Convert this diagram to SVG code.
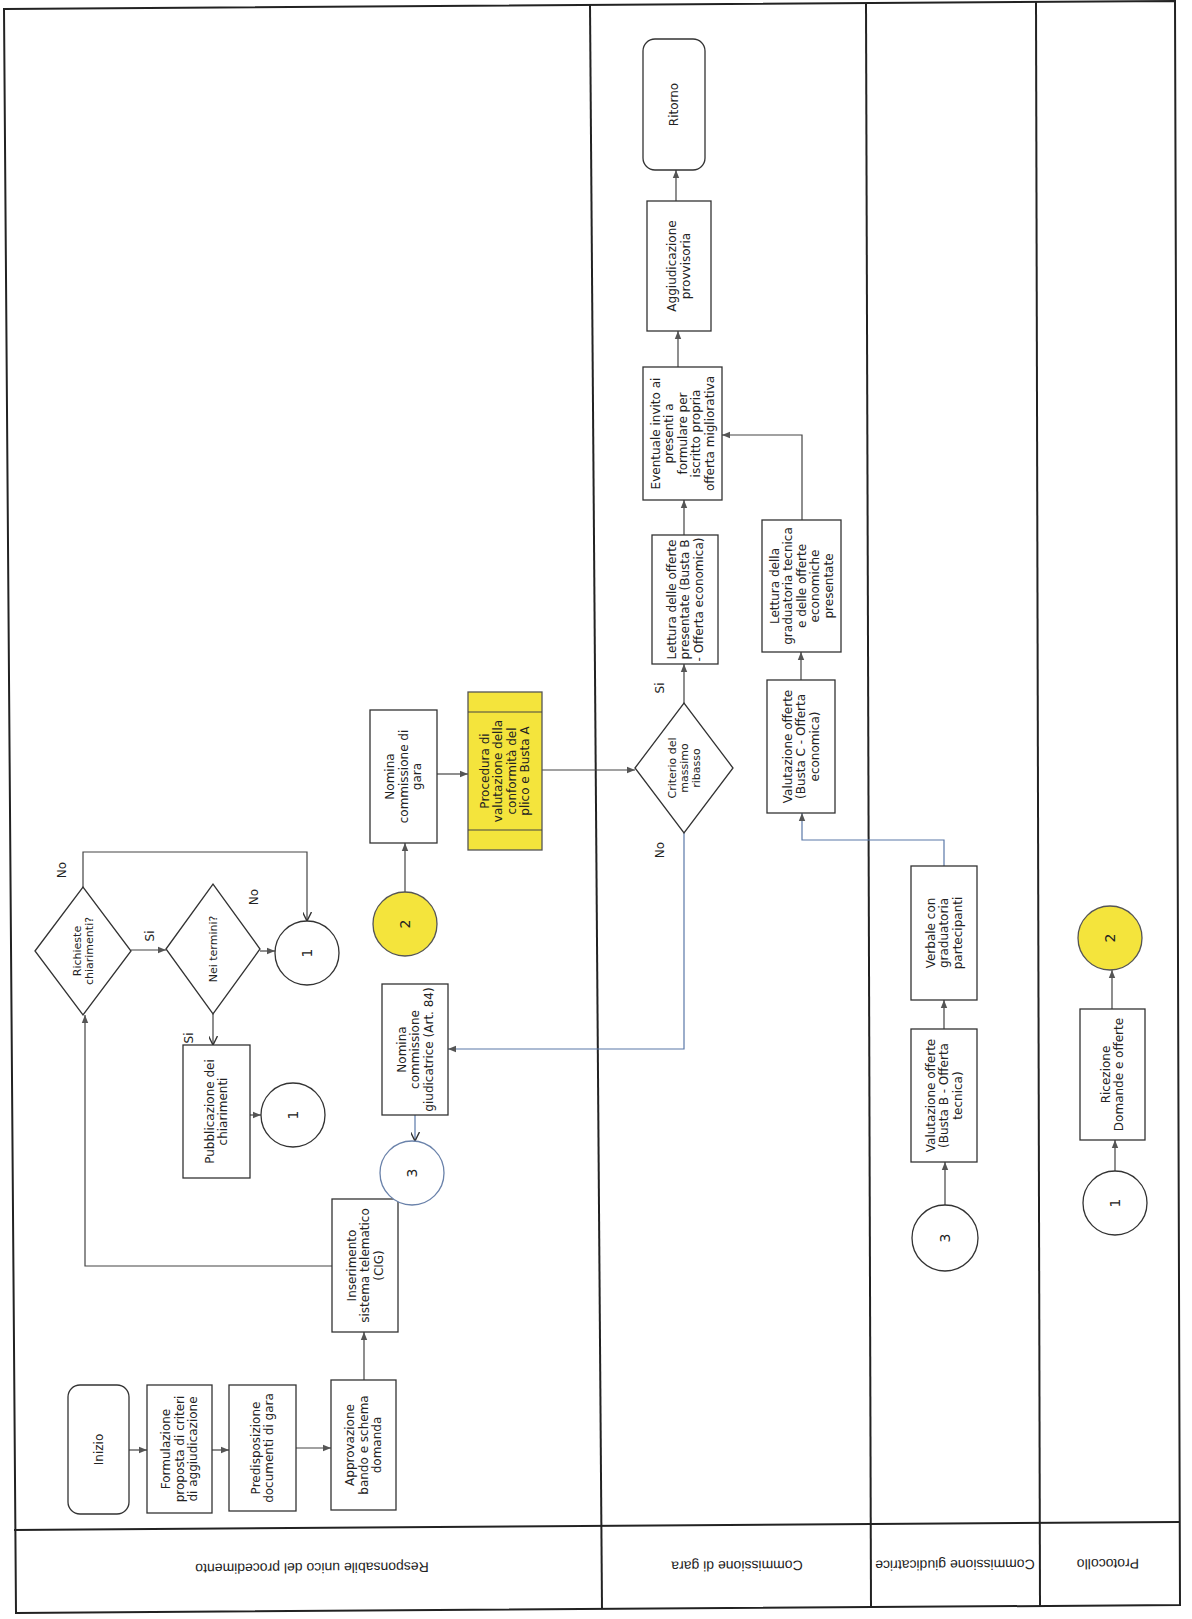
<svg xmlns="http://www.w3.org/2000/svg" width="1192" height="1619" viewBox="0 0 1192 1619">
<defs>
<style>
.bg{fill:#ffffff}
.frame{fill:none;stroke:#222;stroke-width:2}
.box{fill:#ffffff;stroke:#333;stroke-width:1.3}
.yel{fill:#f4e43c;stroke:#555;stroke-width:1.3}
.cb{fill:#ffffff;stroke:#333;stroke-width:1.3}
.cblue{fill:#ffffff;stroke:#6a82aa;stroke-width:1.3}
.t{font-family:"DejaVu Sans","Liberation Sans",sans-serif;font-size:12px;fill:#222;text-anchor:middle}
.ts{font-family:"DejaVu Sans","Liberation Sans",sans-serif;font-size:11px;fill:#222;text-anchor:middle}
.tn{font-family:"DejaVu Sans","Liberation Sans",sans-serif;font-size:14px;fill:#222;text-anchor:middle}
.tl{font-family:"DejaVu Sans","Liberation Sans",sans-serif;font-size:12px;fill:#222;text-anchor:middle}
.th{font-family:"Liberation Sans",Arial,sans-serif;font-size:14px;fill:#222;text-anchor:middle}
.c{fill:none;stroke:#444;stroke-width:1.2}
.cbl{fill:none;stroke:#5a78a8;stroke-width:1.2}
</style>
<marker id="arr" viewBox="0 0 10 10" refX="10" refY="5" markerWidth="8" markerHeight="8" orient="auto" markerUnits="userSpaceOnUse">
<path d="M0,1 L10,5 L0,9 z" fill="#555"/>
</marker>
<marker id="arrv" viewBox="0 0 10 10" refX="10" refY="5" markerWidth="9" markerHeight="9" orient="auto" markerUnits="userSpaceOnUse">
<path d="M0,0 L10,5 L0,10" fill="none" stroke="#333" stroke-width="1.6"/>
</marker>
</defs>
<rect class="bg" x="0" y="0" width="1192" height="1619"/>

<g id="lanes">
<path class="frame" d="M4,9 L1175,1 L1180,1605 L16,1613 Z"/>
<line class="frame" x1="590" y1="5" x2="602" y2="1609"/>
<line class="frame" x1="866" y1="3" x2="871" y2="1607"/>
<line class="frame" x1="1036" y1="2" x2="1040" y2="1606"/>
<line class="frame" x1="14" y1="1530" x2="1179" y2="1522"/>
<text class="th" transform="translate(312 1568) rotate(179.6)" y="5">Responsabile unico del procedimento</text>
<text class="th" transform="translate(737 1566) rotate(179.6)" y="5">Commissione di gara</text>
<text class="th" transform="translate(955 1565) rotate(179.6)" y="5">Commissione giudicatrice</text>
<text class="th" transform="translate(1108 1564) rotate(179.6)" y="5">Protocollo</text>
</g>

<g id="connectors">
<line class="c" x1="129" y1="1450" x2="147" y2="1450" marker-end="url(#arr)"/>
<line class="c" x1="212" y1="1450" x2="229" y2="1450" marker-end="url(#arr)"/>
<line class="c" x1="296" y1="1448" x2="331" y2="1448" marker-end="url(#arr)"/>
<line class="c" x1="364" y1="1380" x2="364" y2="1332" marker-end="url(#arr)"/>
<polyline class="c" points="332,1266 85,1266 85,1015" marker-end="url(#arr)"/>
<line class="c" x1="131" y1="950" x2="166" y2="950" marker-end="url(#arr)"/>
<polyline class="c" points="83,887 83,852 307,852 307,921" marker-end="url(#arrv)"/>
<line class="c" x1="260" y1="951" x2="275" y2="951" marker-end="url(#arr)"/>
<line class="c" x1="213" y1="1014" x2="213" y2="1045" marker-end="url(#arrv)"/>
<line class="c" x1="250" y1="1115" x2="261" y2="1115" marker-end="url(#arr)"/>
<line class="c" x1="405" y1="892" x2="405" y2="843" marker-end="url(#arr)"/>
<line class="c" x1="437" y1="774" x2="468" y2="774" marker-end="url(#arr)"/>
<line class="c" x1="542" y1="770" x2="635" y2="770" marker-end="url(#arr)"/>
<line class="c" x1="684" y1="703" x2="684" y2="664" marker-end="url(#arr)"/>
<polyline class="cbl" points="684,833 684,1049 448,1049" marker-end="url(#arr)"/>
<line class="cbl" x1="415" y1="1115" x2="415" y2="1141" marker-end="url(#arrv)"/>
<line class="c" x1="684" y1="535" x2="684" y2="500" marker-end="url(#arr)"/>
<line class="c" x1="678" y1="367" x2="678" y2="331" marker-end="url(#arr)"/>
<line class="c" x1="676" y1="201" x2="676" y2="170" marker-end="url(#arr)"/>
<line class="c" x1="801" y1="680" x2="801" y2="652" marker-end="url(#arr)"/>
<polyline class="c" points="802,520 802,435 722,435" marker-end="url(#arr)"/>
<polyline class="cbl" points="944,866 944,840 802,840 802,813" marker-end="url(#arr)"/>
<line class="c" x1="944" y1="1029" x2="944" y2="1000" marker-end="url(#arr)"/>
<line class="c" x1="945" y1="1205" x2="945" y2="1162" marker-end="url(#arr)"/>
<line class="c" x1="1115" y1="1171" x2="1115" y2="1140" marker-end="url(#arr)"/>
<line class="c" x1="1112" y1="1009" x2="1112" y2="970" marker-end="url(#arr)"/>
<text class="tl" transform="translate(62 870) rotate(-90)" y="4">No</text>
<text class="tl" transform="translate(150 936) rotate(-90)" y="4">Si</text>
<text class="tl" transform="translate(254 897) rotate(-90)" y="4">No</text>
<text class="tl" transform="translate(189 1038) rotate(-90)" y="4">Si</text>
<text class="tl" transform="translate(660 688) rotate(-90)" y="4">Si</text>
<text class="tl" transform="translate(660 850) rotate(-90)" y="4">No</text>
</g>

<g id="n-inizio">
<rect class="box" x="68" y="1385" width="61" height="129" rx="12"/>
<text class="t" transform="translate(98.5 1449.5) rotate(-90)"><tspan x="0" y="4.2">Inizio</tspan></text>
</g>
<g id="n-formulazione">
<rect class="box" x="147" y="1385" width="65" height="128"/>
<text class="t" transform="translate(179.5 1449) rotate(-90)"><tspan x="0" y="-9.3">Formulazione</tspan><tspan x="0" dy="13.5">proposta di criteri</tspan><tspan x="0" dy="13.5">di aggiudicazione</tspan></text>
</g>
<g id="n-predisposizione">
<rect class="box" x="229" y="1385" width="67" height="126"/>
<text class="t" transform="translate(262.5 1448) rotate(-90)"><tspan x="0" y="-2.55">Predisposizione</tspan><tspan x="0" dy="13.5">documenti di gara</tspan></text>
</g>
<g id="n-approvazione">
<rect class="box" x="331" y="1380" width="65" height="130"/>
<text class="t" transform="translate(363.5 1445) rotate(-90)"><tspan x="0" y="-9.3">Approvazione</tspan><tspan x="0" dy="13.5">bando e schema</tspan><tspan x="0" dy="13.5">domanda</tspan></text>
</g>
<g id="n-inserimento">
<rect class="box" x="332" y="1199" width="66" height="133"/>
<text class="t" transform="translate(365 1265.5) rotate(-90)"><tspan x="0" y="-9.3">Inserimento</tspan><tspan x="0" dy="13.5">sistema telematico</tspan><tspan x="0" dy="13.5">(CIG)</tspan></text>
</g>
<g id="n-richieste">
<polygon class="box" points="35,951 83,887 131,951 83,1015"/>
<text class="ts" transform="translate(83 951) rotate(-90)"><tspan x="0" y="-2.1">Richieste</tspan><tspan x="0" dy="12">chiarimenti?</tspan></text>
</g>
<g id="n-neitermini">
<polygon class="box" points="166,949 213,884 260,949 213,1014"/>
<text class="ts" transform="translate(213 949) rotate(-90)"><tspan x="0" y="3.9">Nei termini?</tspan></text>
</g>
<g id="n-conn1a">
<circle class="cb" cx="307" cy="953" r="32"/>
<text class="tn" transform="translate(307 953) rotate(-90)" y="5">1</text>
</g>
<g id="n-pubblicazione">
<rect class="box" x="183" y="1045" width="67" height="133"/>
<text class="t" transform="translate(216.5 1111.5) rotate(-90)"><tspan x="0" y="-2.55">Pubblicazione dei</tspan><tspan x="0" dy="13.5">chiarimenti</tspan></text>
</g>
<g id="n-conn1b">
<circle class="cb" cx="293" cy="1115" r="32"/>
<text class="tn" transform="translate(293 1115) rotate(-90)" y="5">1</text>
</g>
<g id="n-conn2a">
<circle class="yel" cx="405" cy="924" r="32"/>
<text class="tn" transform="translate(405 924) rotate(-90)" y="5">2</text>
</g>
<g id="n-nominagara">
<rect class="box" x="370" y="710" width="67" height="133"/>
<text class="t" transform="translate(403.5 776.5) rotate(-90)"><tspan x="0" y="-9.3">Nomina</tspan><tspan x="0" dy="13.5">commissione di</tspan><tspan x="0" dy="13.5">gara</tspan></text>
</g>
<g id="n-procedura">
<rect class="yel" x="468" y="692" width="74" height="158"/>
<line class="c" x1="468" y1="712" x2="542" y2="712"/>
<line class="c" x1="468" y1="830" x2="542" y2="830"/>
<text class="t" transform="translate(505 771) rotate(-90)"><tspan x="0" y="-16.05">Procedura di</tspan><tspan x="0" dy="13.5">valutazione della</tspan><tspan x="0" dy="13.5">conformità del</tspan><tspan x="0" dy="13.5">plico e Busta A</tspan></text>
</g>
<g id="n-nominagiud">
<rect class="box" x="382" y="984" width="66" height="131"/>
<text class="t" transform="translate(415 1049.5) rotate(-90)"><tspan x="0" y="-9.3">Nomina</tspan><tspan x="0" dy="13.5">commissione</tspan><tspan x="0" dy="13.5">giudicatrice (Art. 84)</tspan></text>
</g>
<g id="n-conn3a">
<circle class="cblue" cx="412" cy="1173" r="32"/>
<text class="tn" transform="translate(412 1173) rotate(-90)" y="5">3</text>
</g>

<g id="n-criterio">
<polygon class="box" points="635,768 684,703 733,768 684,833"/>
<text class="ts" transform="translate(684 768) rotate(-90)"><tspan x="0" y="-8.1">Criterio del</tspan><tspan x="0" dy="12">massimo</tspan><tspan x="0" dy="12">ribasso</tspan></text>
</g>
<g id="n-letturaofferte">
<rect class="box" x="652" y="535" width="66" height="129"/>
<text class="t" transform="translate(685 599.5) rotate(-90)"><tspan x="0" y="-9.3">Lettura delle offerte</tspan><tspan x="0" dy="13.5">presentate (Busta B</tspan><tspan x="0" dy="13.5">- Offerta economica)</tspan></text>
</g>
<g id="n-eventuale">
<rect class="box" x="643" y="367" width="79" height="133"/>
<text class="t" transform="translate(682.5 433.5) rotate(-90)"><tspan x="0" y="-22.8">Eventuale invito ai</tspan><tspan x="0" dy="13.5">presenti a</tspan><tspan x="0" dy="13.5">formulare per</tspan><tspan x="0" dy="13.5">iscritto propria</tspan><tspan x="0" dy="13.5">offerta migliorativa</tspan></text>
</g>
<g id="n-aggiudicazione">
<rect class="box" x="647" y="201" width="64" height="130"/>
<text class="t" transform="translate(679 266) rotate(-90)"><tspan x="0" y="-2.55">Aggiudicazione</tspan><tspan x="0" dy="13.5">provvisoria</tspan></text>
</g>
<g id="n-ritorno">
<rect class="box" x="643" y="39" width="62" height="131" rx="12"/>
<text class="t" transform="translate(674 104.5) rotate(-90)"><tspan x="0" y="4.2">Ritorno</tspan></text>
</g>
<g id="n-valutazionec">
<rect class="box" x="767" y="680" width="68" height="133"/>
<text class="t" transform="translate(801 746.5) rotate(-90)"><tspan x="0" y="-9.3">Valutazione offerte</tspan><tspan x="0" dy="13.5">(Busta C - Offerta</tspan><tspan x="0" dy="13.5">economica)</tspan></text>
</g>
<g id="n-letturagrad">
<rect class="box" x="762" y="520" width="79" height="132"/>
<text class="t" transform="translate(801.5 586) rotate(-90)"><tspan x="0" y="-22.8">Lettura della</tspan><tspan x="0" dy="13.5">graduatoria tecnica</tspan><tspan x="0" dy="13.5">e delle offerte</tspan><tspan x="0" dy="13.5">economiche</tspan><tspan x="0" dy="13.5">presentate</tspan></text>
</g>

<g id="n-verbale">
<rect class="box" x="911" y="866" width="66" height="134"/>
<text class="t" transform="translate(944 933) rotate(-90)"><tspan x="0" y="-9.3">Verbale con</tspan><tspan x="0" dy="13.5">graduatoria</tspan><tspan x="0" dy="13.5">partecipanti</tspan></text>
</g>
<g id="n-valutazioneb">
<rect class="box" x="911" y="1029" width="66" height="133"/>
<text class="t" transform="translate(944 1095.5) rotate(-90)"><tspan x="0" y="-9.3">Valutazione offerte</tspan><tspan x="0" dy="13.5">(Busta B - Offerta</tspan><tspan x="0" dy="13.5">tecnica)</tspan></text>
</g>
<g id="n-conn3b">
<circle class="cb" cx="945" cy="1238" r="33"/>
<text class="tn" transform="translate(945 1238) rotate(-90)" y="5">3</text>
</g>

<g id="n-ricezione">
<rect class="box" x="1080" y="1009" width="65" height="131"/>
<text class="t" transform="translate(1112.5 1074.5) rotate(-90)"><tspan x="0" y="-2.55">Ricezione</tspan><tspan x="0" dy="13.5">Domande e offerte</tspan></text>
</g>
<g id="n-conn1c">
<circle class="cb" cx="1115" cy="1203" r="32"/>
<text class="tn" transform="translate(1115 1203) rotate(-90)" y="5">1</text>
</g>
<g id="n-conn2b">
<circle class="yel" cx="1110" cy="938" r="32"/>
<text class="tn" transform="translate(1110 938) rotate(-90)" y="5">2</text>
</g>
</svg>
